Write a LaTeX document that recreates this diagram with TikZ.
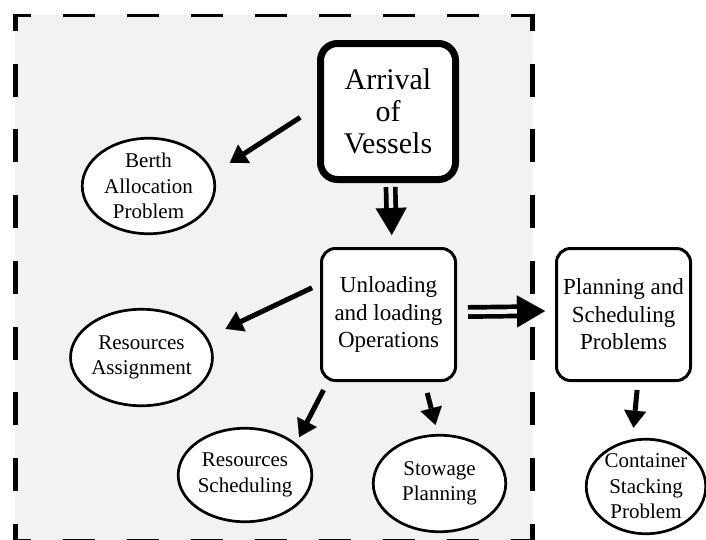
\documentclass[tikz,border=0pt]{standalone}
\usepackage{fontspec}
\setmainfont{Liberation Serif}
\usetikzlibrary{arrows.meta,shapes.geometric,calc}
\definecolor{panel}{HTML}{F2F2F2}

\begin{document}
\begin{tikzpicture}[x=1pt,y=-1pt,
  box/.style={draw, fill=white, line width=3pt, rounded corners=14pt,
    minimum width=134pt, minimum height=132pt, inner sep=2pt, align=center,
    font=\fontsize{23}{27.5}\selectfont},
  bigbox/.style={box, line width=7pt, rounded corners=17pt,
    minimum width=135pt, minimum height=136pt,
    font=\fontsize{30}{32}\selectfont},
  oval/.style={draw, fill=white, ellipse, line width=2.7pt, inner sep=0pt,
    align=center, font=\fontsize{21}{25.5}\selectfont},
  arr/.style={line width=5pt, -{Triangle[length=17pt,width=22pt,line width=0.1pt]}},
  dbl/.style={line width=4.7pt, double=panel, double distance=4.5pt},
  dblhead/.style={line width=0.1pt, -{Triangle[length=27pt,width=31pt,line width=0.1pt]}},
  frameh/.style={line width=3pt, dash pattern=on 32pt off 32pt, dash phase=15pt},
  framev/.style={line width=5pt, dash pattern=on 33pt off 32.7pt, dash phase=16pt},
]
\useasboundingbox (0,0) rectangle (706,539);
\clip (0,0) rectangle (706,539);

% shaded frame around the terminal operations
\fill[panel] (15,15) rectangle (533,541);
\draw[framev] (15.5,14) -- (15.5,545);
\draw[framev] (532.5,14) -- (532.5,545);
\draw[frameh] (14,15.5) -- (535,15.5);
\draw[frameh] (14,540.2) -- (535,540.2);

% main stages
\node[bigbox] (arrival) at (388,111.5) {Arrival\\of\\Vessels};
\node[box] (unload) at (388.5,314.5) {Unloading\\and loading\\Operations};
\node[box] (plan) at (623.5,314.5) {Planning and\\Scheduling\\Problems};

% sub-problems
\node[oval, minimum width=132.5pt, minimum height=95.5pt] (berth) at (148.5,186) {Berth\\Allocation\\Problem};
\node[oval, minimum width=132.5pt, minimum height=96.5pt] (assign) at (141.5,357.5) {Resources\\Assignment};
\node[oval, minimum width=133.5pt, minimum height=93.5pt] (sched) at (245,475) {Resources\\Scheduling};
\node[oval, minimum width=132.5pt, minimum height=96.5pt] (stow) at (439.5,483.5) {Stowage\\Planning};
\node[oval, minimum width=119.5pt, minimum height=94.5pt] (cont) at (646,486.5) {Container\\Stacking\\Problem};

% single arrows
\draw[arr, shorten <=20pt, shorten >=19pt] (arrival.176) -- (berth.11);
\draw[arr, shorten <=8.8pt, shorten >=20pt] (unload.156.2) -- (assign.17);
\draw[arr, shorten <=9pt, shorten >=6.8pt] (unload.228.8) -- (sched.32.3);
\draw[arr, shorten <=11.3pt, shorten >=9.3pt] (unload.298.8) -- (stow.92.9);
\draw[arr, shorten <=8pt, shorten >=11.5pt] (plan.282) -- (cont.106.7);

% double arrows
\draw[dbl, shorten <=4pt, shorten >=39pt] (arrival.272.8) -- (unload.87.5);
\draw[dblhead, shorten <=25pt, shorten >=12pt] (arrival.272.8) -- (unload.87.5);
\draw[dbl, shorten <=11pt, shorten >=38pt] (unload.2.1) -- (plan.177.9);
\draw[dblhead, -{Triangle[length=28pt,width=32pt,line width=0.1pt]}, shorten <=60pt, shorten >=10pt] (unload.2.1) -- (plan.177.9);
\end{tikzpicture}
\end{document}
